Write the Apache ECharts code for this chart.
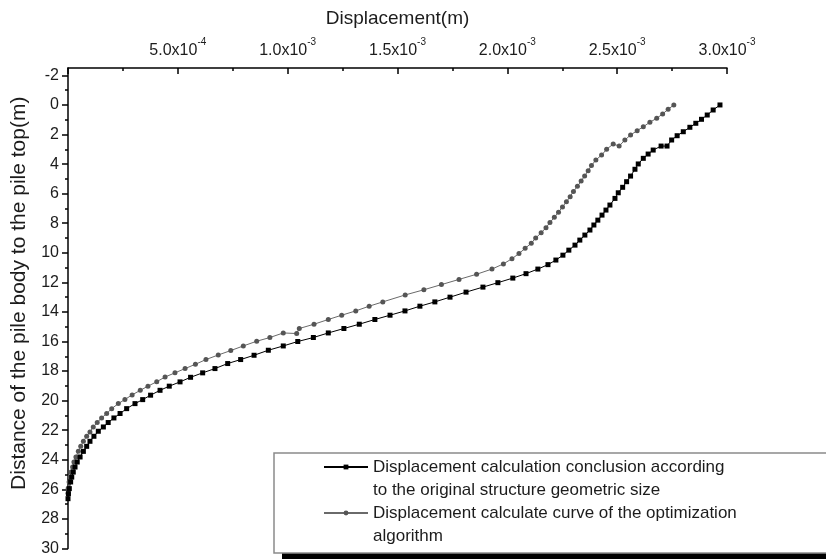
<!DOCTYPE html>
<html>
<head>
<meta charset="utf-8">
<script src="https://cdn.jsdelivr.net/npm/echarts@6/dist/echarts.min.js"></script>
<style>
  html, body { margin: 0; padding: 0; background: #fff; }
  #chart { width: 826px; height: 559px; }
</style>
</head>
<body>
<div id="chart"></div>
<script>
// Depth below the pile top (m) and pile displacement (m) for the original design
const depthOriginal = [
  0.00, 0.34, 0.68, 0.97, 1.24, 1.51, 1.81, 2.08, 2.37, 2.78, 2.78, 3.05, 3.32, 3.61, 3.99,
  4.35, 4.81, 5.19, 5.57, 5.94, 6.32, 6.77, 7.11, 7.45, 7.79, 8.12, 8.46, 8.80, 9.14, 9.48,
  9.82, 10.16, 10.49, 10.80, 11.10, 11.41, 11.71, 12.02, 12.32, 12.66, 13.00, 13.32, 13.61, 13.93, 14.22,
  14.51, 14.83, 15.12, 15.42, 15.73, 16.00, 16.30, 16.59, 16.93, 17.22, 17.49, 17.83, 18.12, 18.42, 18.73,
  19.02, 19.30, 19.63, 19.93, 20.20, 20.54, 20.87, 21.17, 21.48, 21.78, 22.07, 22.41, 22.75, 23.09, 23.43,
  23.81, 24.15, 24.49, 24.83, 25.17, 25.50, 25.95, 26.29, 26.63
];
const dispOriginal = [
  2.968e-3, 2.937e-3, 2.910e-3, 2.884e-3, 2.858e-3, 2.831e-3, 2.801e-3, 2.773e-3, 2.748e-3, 2.727e-3, 2.700e-3, 2.664e-3, 2.641e-3, 2.619e-3, 2.596e-3,
  2.581e-3, 2.561e-3, 2.543e-3, 2.525e-3, 2.505e-3, 2.490e-3, 2.467e-3, 2.449e-3, 2.431e-3, 2.412e-3, 2.394e-3, 2.376e-3, 2.353e-3, 2.330e-3, 2.308e-3,
  2.280e-3, 2.253e-3, 2.221e-3, 2.185e-3, 2.139e-3, 2.085e-3, 2.025e-3, 1.957e-3, 1.889e-3, 1.812e-3, 1.739e-3, 1.670e-3, 1.602e-3, 1.534e-3, 1.466e-3,
  1.397e-3, 1.326e-3, 1.256e-3, 1.185e-3, 1.117e-3, 1.046e-3, 0.980e-3, 0.912e-3, 0.847e-3, 0.786e-3, 0.727e-3, 0.669e-3, 0.613e-3, 0.558e-3, 0.510e-3,
  0.461e-3, 0.419e-3, 0.376e-3, 0.340e-3, 0.305e-3, 0.267e-3, 0.237e-3, 0.209e-3, 0.183e-3, 0.161e-3, 0.138e-3, 0.118e-3, 0.100e-3, 0.085e-3, 0.070e-3,
  0.055e-3, 0.042e-3, 0.032e-3, 0.024e-3, 0.017e-3, 0.012e-3, 0.006e-3, 0.002e-3, 0.000
];

// Depth (m) and displacement (m) for the optimized design
const depthOptimized = [
  0.00, 0.29, 0.61, 0.90, 1.17, 1.47, 1.74, 2.03, 2.37, 2.78, 2.64, 3.00, 3.39, 3.72, 4.10,
  4.45, 4.80, 5.15, 5.50, 5.85, 6.20, 6.55, 6.90, 7.25, 7.60, 7.95, 8.30, 8.65, 9.00, 9.35,
  9.70, 10.05, 10.40, 10.75, 11.10, 11.45, 11.80, 12.15, 12.50, 12.85, 13.32, 13.61, 13.93, 14.22, 14.51,
  14.83, 15.12, 15.46, 15.42, 15.73, 15.98, 16.30, 16.61, 16.91, 17.22, 17.54, 17.83, 18.12, 18.40, 18.72,
  19.02, 19.30, 19.61, 19.92, 20.20, 20.54, 20.87, 21.17, 21.48, 21.78, 22.12, 22.41, 22.75, 23.09, 23.43,
  23.81, 24.15, 24.49, 24.83, 25.17, 25.50, 25.93, 26.27
];
const dispOptimized = [
  2.758e-3, 2.732e-3, 2.707e-3, 2.680e-3, 2.649e-3, 2.619e-3, 2.591e-3, 2.561e-3, 2.535e-3, 2.509e-3, 2.482e-3, 2.452e-3, 2.429e-3, 2.403e-3, 2.383e-3,
  2.368e-3, 2.352e-3, 2.336e-3, 2.319e-3, 2.301e-3, 2.286e-3, 2.269e-3, 2.251e-3, 2.233e-3, 2.214e-3, 2.194e-3, 2.176e-3, 2.154e-3, 2.129e-3, 2.109e-3,
  2.081e-3, 2.053e-3, 2.021e-3, 1.982e-3, 1.930e-3, 1.860e-3, 1.780e-3, 1.700e-3, 1.620e-3, 1.535e-3, 1.433e-3, 1.371e-3, 1.310e-3, 1.246e-3, 1.185e-3,
  1.120e-3, 1.053e-3, 1.041e-3, 0.980e-3, 0.919e-3, 0.859e-3, 0.798e-3, 0.741e-3, 0.684e-3, 0.628e-3, 0.580e-3, 0.533e-3, 0.487e-3, 0.442e-3, 0.404e-3,
  0.364e-3, 0.329e-3, 0.292e-3, 0.259e-3, 0.229e-3, 0.199e-3, 0.176e-3, 0.153e-3, 0.133e-3, 0.115e-3, 0.100e-3, 0.085e-3, 0.070e-3, 0.058e-3, 0.047e-3,
  0.036e-3, 0.027e-3, 0.021e-3, 0.014e-3, 0.009e-3, 0.005e-3, 0.001e-3, 0.000
];

// Series names as shown in the legend (two lines each)
const seriesNames = [
  'Displacement calculation conclusion according\nto the original structure geometric size',
  'Displacement calculate curve of the optimization\nalgorithm'
];

// Axis tick values and labels
const xTickValues = [0.0005, 0.0010, 0.0015, 0.0020, 0.0025, 0.0030];
const xTickMantissa = ['5.0x10', '1.0x10', '1.5x10', '2.0x10', '2.5x10', '3.0x10'];
const xTickExponent = ['-4', '-3', '-3', '-3', '-3', '-3'];
const yTickValues = [-2, 0, 2, 4, 6, 8, 10, 12, 14, 16, 18, 20, 22, 24, 26, 28, 30];
const yMinorTickValues = [-1, 1, 3, 5, 7, 9, 11, 13, 15, 17, 19, 21, 23, 25, 27, 29];

const FONT = '"Liberation Sans", Arial, sans-serif';
const TEXT = '#1c1c1c';

function pairs(xs, ys) {
  return xs.map((x, i) => [x, ys[i]]);
}

const chart = echarts.init(document.getElementById('chart'), null, { renderer: 'canvas' });

chart.setOption({
  animation: false,
  backgroundColor: '#fff',
  textStyle: { fontFamily: FONT },
  grid: { left: 68, top: 68, right: 99, bottom: 10.5, containLabel: false },
  xAxis: {
    type: 'value',
    position: 'top',
    min: 0,
    max: 0.003,
    interval: 0.0005,
    name: 'Displacement(m)',
    nameLocation: 'middle',
    nameGap: 40,
    nameTextStyle: { fontSize: 19, color: TEXT, fontFamily: FONT },
    axisLine: { show: true, onZero: false, lineStyle: { color: '#000', width: 1.5 } },
    axisTick: { show: true, inside: true, length: 6, lineStyle: { color: '#000', width: 1.5 } },
    minorTick: { show: true, splitNumber: 2, length: 3, lineStyle: { color: '#000', width: 1.5 } },
    splitLine: { show: false },
    axisLabel: {
      margin: 9,
      color: TEXT,
      formatter: function (v) {
        const i = xTickValues.findIndex(t => Math.abs(t - v) < 1e-9);
        if (i < 0) return '';
        return '{m|' + xTickMantissa[i] + '}{e|' + xTickExponent[i] + '}';
      },
      rich: {
        m: { fontSize: 16, fontFamily: FONT, color: TEXT, lineHeight: 22, verticalAlign: 'bottom' },
        e: { fontSize: 10, fontFamily: FONT, color: TEXT, lineHeight: 12, verticalAlign: 'top' }
      }
    }
  },
  yAxis: [
    {
      type: 'value',
      inverse: true,
      min: -2.5,
      max: 30,
      name: 'Distance of the pile body to the pile top(m)',
      nameLocation: 'middle',
      nameGap: 38,
      nameRotate: 90,
      nameTextStyle: { fontSize: 21, color: TEXT, fontFamily: FONT, padding: [0, 0, 0, 30] },
      axisLine: { show: true, onZero: false, lineStyle: { color: '#000', width: 1.5 } },
      axisTick: { show: true, inside: false, length: 6, customValues: yTickValues, lineStyle: { color: '#000', width: 1.5 } },
      splitLine: { show: false },
      axisLabel: {
        customValues: yTickValues,
        margin: 9,
        fontSize: 16,
        color: TEXT,
        fontFamily: FONT
      }
    },
    {
      type: 'value',
      inverse: true,
      min: -2.5,
      max: 30,
      position: 'left',
      axisLine: { show: false },
      axisTick: { show: true, inside: false, length: 3, customValues: yMinorTickValues, lineStyle: { color: '#000', width: 1.5 } },
      axisLabel: { show: false },
      splitLine: { show: false }
    }
  ],
  legend: {
    orient: 'vertical',
    left: 323,
    top: 432.5,
    padding: 0,
    itemWidth: 44,
    itemHeight: 6,
    itemGap: -23,
    z: 20,
    selectedMode: false,
    // a leading blank line puts the first text line level with the legend icon
    formatter: function (name) { return '\n' + name; },
    textStyle: { fontSize: 17, lineHeight: 23, color: TEXT, fontFamily: FONT },
    data: seriesNames
  },
  graphic: [
    {
      type: 'rect',
      z: 10,
      silent: true,
      shape: { x: 282, y: 461, width: 700, height: 110 },
      style: { fill: '#000' }
    },
    {
      type: 'rect',
      z: 11,
      silent: true,
      shape: { x: 274, y: 453, width: 700, height: 100 },
      style: { fill: '#fff', stroke: '#8a8a8a', lineWidth: 1.5 }
    }
  ],
  series: [
    {
      name: seriesNames[0],
      type: 'line',
      data: pairs(dispOriginal, depthOriginal),
      symbol: 'rect',
      symbolSize: 5,
      showAllSymbol: true,
      clip: false,
      itemStyle: { color: '#000' },
      lineStyle: { color: '#000', width: 1 },
      z: 3
    },
    {
      name: seriesNames[1],
      type: 'line',
      data: pairs(dispOptimized, depthOptimized),
      symbol: 'circle',
      symbolSize: 5,
      showAllSymbol: true,
      clip: false,
      itemStyle: { color: '#555' },
      lineStyle: { color: '#6a6a6a', width: 1 },
      z: 2
    }
  ]
});
</script>
</body>
</html>
